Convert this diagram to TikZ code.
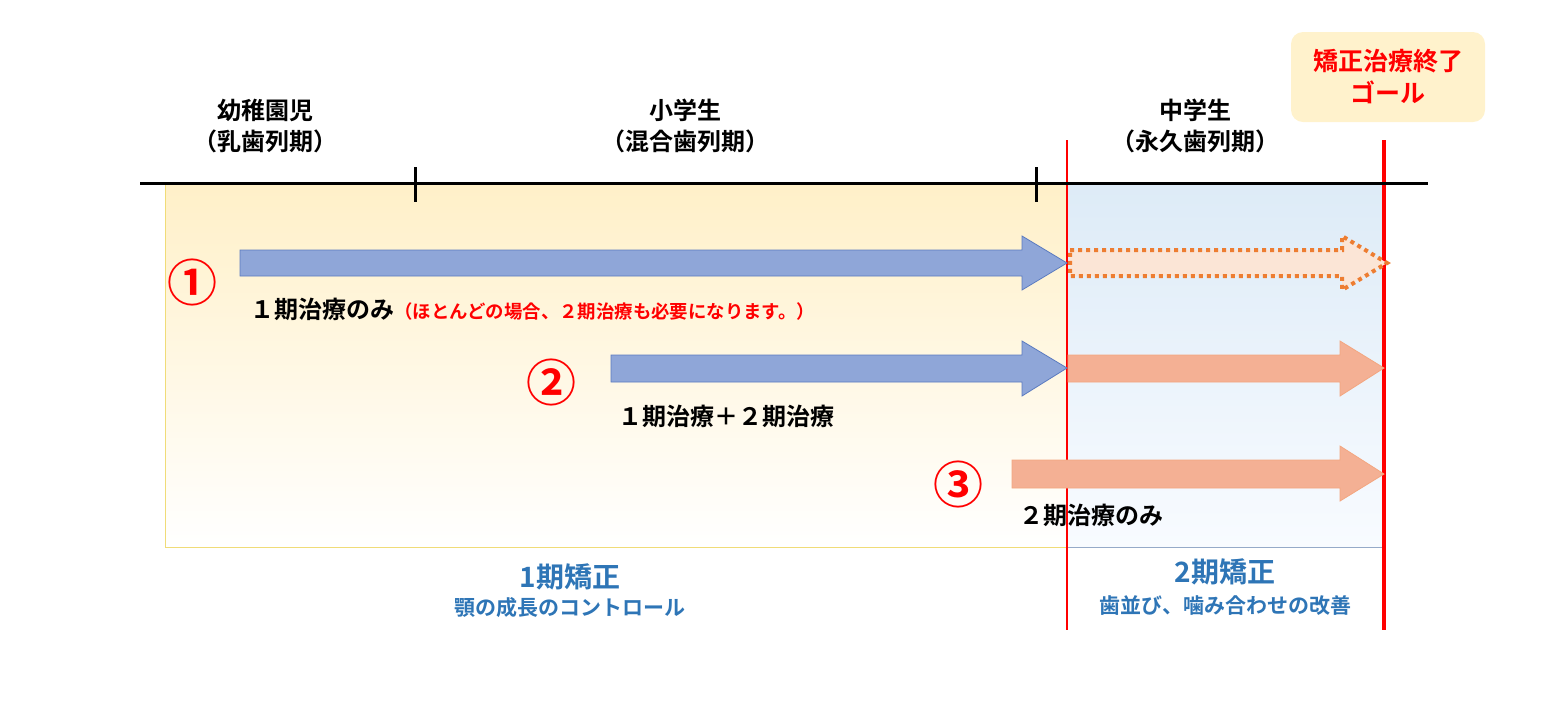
\documentclass[tikz,border=0pt]{standalone}
\usepackage{fontspec}
\setmainfont{Noto Sans CJK JP}
\newfontfamily\jpb{Noto Sans CJK JP}[BoldFont=* Bold]
\usetikzlibrary{shapes.arrows}
\definecolor{bluearr}{HTML}{8FA6D8}
\definecolor{bluebd}{HTML}{5B7BC0}
\definecolor{orarr}{HTML}{F4B094}
\definecolor{orbd}{HTML}{ED7D31}
\definecolor{txtblue}{HTML}{2E75B6}
\tikzset{
 lbl/.style={font=\jpb\bfseries\fontsize{12}{15.5}\selectfont,align=center,text=black},
 num/.style={font=\jpb\bfseries\fontsize{25}{25}\selectfont,text=red},
 barr/.style={fill=bluearr,draw=bluebd,line width=0.4pt},
 oarr/.style={fill=orarr,draw=orarr!80!orbd,line width=0.4pt},
}
\begin{document}
\begin{tikzpicture}[x=0.5pt,y=-0.5pt]
\useasboundingbox (0,0) rectangle (1545,720);
\shade[top color={rgb,255:red,255;green,240;blue,200},bottom color=white] (165,183) rectangle (1067,547);
\draw[draw={rgb,255:red,240;green,220;blue,120},line width=0.4pt] (165,183) rectangle (1067,547);
\shade[top color={rgb,255:red,221;green,235;blue,247},bottom color={rgb,255:red,248;green,251;blue,255}] (1067,183) rectangle (1383,547);
\draw[draw={rgb,255:red,150;green,170;blue,200},line width=0.4pt] (1067,183) rectangle (1383,547);
\coordinate (r1t) at (1067,140); \coordinate (r1b) at (1067,630);
\draw[red,line width=0.6pt] (r1t) -- (r1b);
\coordinate (r2t) at (1384,140); \coordinate (r2b) at (1384,630);
\draw[red,line width=1.6pt] (r2t) -- (r2b);
\coordinate (tl) at (140,183); \coordinate (tr) at (1428,183);
\draw[line width=1.5pt] (tl) -- (tr);
\draw[line width=1.5pt] (415,167) -- (415,202) (1036,167) -- (1036,202);
\node[lbl] (k1) at (265,126) {幼稚園児\\（乳歯列期）};
\node[lbl] (k2) at (685,126) {小学生\\（混合歯列期）};
\node[lbl] (k3) at (1195,126) {中学生\\（永久歯列期）};
\node[fill={rgb,255:red,255;green,242;blue,204},rounded corners=6pt,minimum width=97pt,minimum height=45pt,lbl,text=red,font=\jpb\bfseries\fontsize{12.5}{16}\selectfont] (goal) at (1388,77) {矯正治療終了\\ゴール};
\draw[barr] (240,250) -- (1022,250) -- (1022,236) -- (1067,263) -- (1022,290) -- (1022,276) -- (240,276) -- cycle;
\draw[fill={rgb,255:red,251;green,229;blue,214},draw=orbd,line width=2pt,dotted] (1070,250) -- (1342,250) -- (1342,236) -- (1387,263) -- (1342,290) -- (1342,276) -- (1070,276) -- cycle;
\node[num] (n1) at (192,282) {①};
\node[anchor=west,lbl,inner sep=0] (t1) at (250,309) {１期治療のみ\textcolor{red}{\fontsize{9.2}{11}\selectfont（ほとんどの場合、２期治療も必要になります。）}};
\draw[barr] (611,355) -- (1022,355) -- (1022,341) -- (1067,368) -- (1022,396) -- (1022,382) -- (611,382) -- cycle;
\draw[oarr] (1068,355) -- (1340,355) -- (1340,341) -- (1384,368) -- (1340,396) -- (1340,382) -- (1068,382) -- cycle;
\node[num] (n2) at (551,382) {②};
\node[anchor=west,lbl,inner sep=0] (t2) at (618,416) {１期治療＋２期治療};
\draw[oarr] (1012,460) -- (1340,460) -- (1340,446) -- (1384,474) -- (1340,501) -- (1340,488) -- (1012,488) -- cycle;
\node[num] (n3) at (958,484) {③};
\node[anchor=west,lbl,inner sep=0] (t3) at (1019,515) {２期治療のみ};
\node[lbl,text=txtblue,font=\jpb\bfseries\fontsize{14}{16}\selectfont] (p1) at (570,577) {1期矯正};
\node[lbl,text=txtblue,font=\jpb\bfseries\fontsize{10.5}{13}\selectfont] (p1s) at (570,608) {顎の成長のコントロール};
\node[lbl,text=txtblue,font=\jpb\bfseries\fontsize{14}{16}\selectfont] (p2) at (1225,572) {2期矯正};
\node[lbl,text=txtblue,font=\jpb\bfseries\fontsize{10.5}{13}\selectfont] (p2s) at (1225,606) {歯並び、噛み合わせの改善};
\end{tikzpicture}
\end{document}
